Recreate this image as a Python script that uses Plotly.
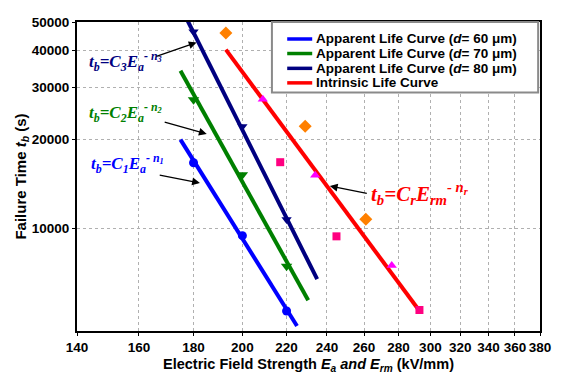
import numpy as np
import plotly.graph_objects as go

# ---- data ----
E_fit_60 = [175, 225]
t_fit_60 = [20000, 4680]
E_pts_60 = [180, 200, 220]
t_pts_60 = [16700, 9460, 5260]

E_fit_70 = [175, 230.5]
t_fit_70 = [34200, 5720]
E_pts_70 = [180, 200, 220]
t_pts_70 = [27300, 15200, 7450]

E_fit_80 = [177, 235]
t_fit_80 = [52000, 6740]
E_pts_80 = [180, 200, 220]
t_pts_80 = [46300, 22150, 10730]

E_fit_int = [193, 292.6]
t_fit_int = [40300, 5300]

E_diam = [193, 229, 261]
t_diam = [45900, 22200, 10740]
E_sq = [217, 245, 293]
t_sq = [16770, 9410, 5300]
E_tri = [209, 234, 276]
t_tri = [27400, 15160, 7490]

series_names = [
    "Apparent Life Curve (<i>d</i>= 60 μm)",
    "Apparent Life Curve (<i>d</i>= 70 μm)",
    "Apparent Life Curve (<i>d</i>= 80 μm)",
    "Intrinsic Life Curve",
]

x_ticks = [140, 160, 180, 200, 220, 240, 260, 280, 300, 320, 340, 360, 380]
y_ticks = [10000, 20000, 30000, 40000, 50000]

BLUE = "#0000FF"
GREEN = "#008000"
NAVY = "#000080"
RED = "#FF0000"
series_colors = [BLUE, GREEN, NAVY, RED]

SANS = "Liberation Sans, Arial, sans-serif"
SERIF = "Liberation Serif, Times New Roman, serif"

fig = go.Figure()

def fit(E, t, color, name):
    fig.add_trace(go.Scatter(x=E, y=t, mode="lines", line=dict(color=color, width=4),
                             name=name, showlegend=False))

def pts(E, t, color, symbol, size=9):
    fig.add_trace(go.Scatter(x=E, y=t, mode="markers",
                             marker=dict(color=color, symbol=symbol, size=size),
                             showlegend=False, cliponaxis=False))

fit(E_fit_60, t_fit_60, BLUE, series_names[0])
fit(E_fit_70, t_fit_70, GREEN, series_names[1])
fit(E_fit_80, t_fit_80, NAVY, series_names[2])
fit(E_fit_int, t_fit_int, RED, series_names[3])

pts(E_pts_60, t_pts_60, BLUE, "circle", 9)
pts(E_pts_70, t_pts_70, GREEN, "triangle-down", 10)
pts(E_pts_80, t_pts_80, NAVY, "triangle-down", 9)
pts(E_diam, t_diam, "#FF8000", "diamond", 10)
pts(E_sq, t_sq, "#FF0080", "square", 8)
pts(E_tri, t_tri, "#FF00FF", "triangle-up", 9)

# ---- compact legend box (paper coordinates) ----
fig.add_shape(type="rect", xref="paper", yref="paper", x0=0.421, x1=0.996, y0=0.772, y1=1.0,
              line=dict(color="#8a8a8a", width=2), fillcolor="white", layer="above")
row_y = [0.945, 0.898, 0.850, 0.803]
for name, color, ry in zip(series_names, series_colors, row_y):
    fig.add_shape(type="line", xref="paper", yref="paper", x0=0.454, x1=0.508, y0=ry, y1=ry,
                  line=dict(color=color, width=3.5), layer="above")
    fig.add_annotation(text="<b>" + name + "</b>", xref="paper", yref="paper", x=0.512, y=ry,
                       xanchor="left", yanchor="middle", showarrow=False,
                       font=dict(family=SANS, size=13.5, color="black"))

# ---- equation labels ----
def eq(text, x, y, color, size):
    fig.add_annotation(text="<b><i>" + text + "</i></b>", xref="paper", yref="paper", x=x, y=y,
                       xanchor="left", yanchor="middle", showarrow=False,
                       font=dict(family=SERIF, size=size, color=color))

eq("t<sub>b</sub>=C<sub>3</sub>E<sub>a</sub><sup>- n<sub>3</sub></sup>", 0.022, 0.872, NAVY, 17)
eq("t<sub>b</sub>=C<sub>2</sub>E<sub>a</sub><sup>- n<sub>2</sub></sup>", 0.022, 0.706, GREEN, 17)
eq("t<sub>b</sub>=C<sub>1</sub>E<sub>a</sub><sup>- n<sub>1</sub></sup>", 0.026, 0.542, BLUE, 17)
eq("t<sub>b</sub>=C<sub>r</sub>E<sub>rm</sub><sup>- n<sub>r</sub></sup>", 0.63, 0.445, RED, 21)

def arrow(x_head, y_head, x_tail, y_tail):
    fig.add_annotation(x=np.log10(x_head), y=np.log10(y_head),
                       ax=np.log10(x_tail), ay=np.log10(y_tail),
                       xref="x", yref="y", axref="x", ayref="y", text="",
                       showarrow=True, arrowhead=2, arrowsize=1.2, arrowwidth=1.3,
                       arrowcolor="black")

arrow(181.2, 42600, 165.6, 38100)
arrow(185.2, 20900, 168.6, 23000)
arrow(182.5, 14270, 166.8, 15200)
arrow(241.5, 13920, 262.4, 13130)

# The page body has an 8px margin: shrink the figure so it fits the 561x377 window.
fig.update_layout(
    width=553, height=369,
    margin=dict(l=69, r=21, t=7, b=44),
    paper_bgcolor="white", plot_bgcolor="white",
    font=dict(family=SANS, size=13, color="black"),
    showlegend=False,
    xaxis=dict(type="log", range=[np.log10(140), np.log10(380)],
               tickvals=x_ticks, ticktext=["<b>%d</b>" % v for v in x_ticks],
               showgrid=True, gridcolor="#b0b0b0", griddash="dot", gridwidth=1,
               showline=True, linecolor="black", linewidth=2, mirror=True,
               ticks="outside", ticklen=3, tickcolor="black",
               tickfont=dict(family=SANS, size=13.5),
               title=dict(text="<b>Electric Field Strength <i>E<sub>a</sub> and E<sub>rm</sub></i> (kV/mm)</b>",
                          font=dict(family=SANS, size=14.5), standoff=5),
               zeroline=False),
    yaxis=dict(type="log", range=[np.log10(4500), np.log10(50000)],
               tickvals=y_ticks, ticktext=["<b>%d</b>" % v for v in y_ticks],
               showgrid=True, gridcolor="#b0b0b0", griddash="dot", gridwidth=1,
               showline=True, linecolor="black", linewidth=2, mirror=True,
               ticks="outside", ticklen=3, tickcolor="black",
               tickfont=dict(family=SANS, size=13.5),
               title=dict(text="<b>Failure Time <i>t<sub>b</sub></i> (s)</b>",
                          font=dict(family=SANS, size=15), standoff=2),
               zeroline=False),
)

fig.write_html("out.html")
